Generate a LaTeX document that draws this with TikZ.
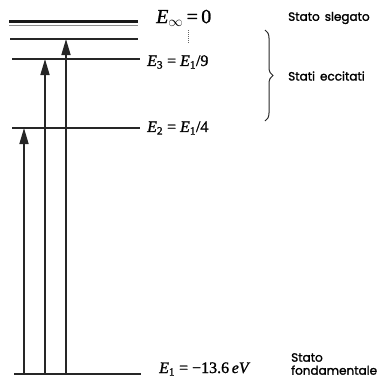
\documentclass[tikz,border=0pt]{standalone}
\usepackage{fontspec}
\usetikzlibrary{arrows.meta,decorations.pathreplacing}
\newfontfamily\labfont{Poppins}[FakeBold=1.6]
\newfontfamily\eqfont{Liberation Serif}[FakeBold=1.2]
\newcommand{\Ei}[1]{\textit{E}\textsubscript{#1}}
\begin{document}
\begin{tikzpicture}[x=1pt,y=-1pt,
  level/.style={line width=1.6pt,black!85},
  uparrow/.style={line width=1.6pt,black!85,-{Triangle[width=9pt,length=16pt]}},
  elabel/.style={anchor=west,inner sep=0pt,font=\eqfont\fontsize{16}{18}\selectfont},
  sidelabel/.style={anchor=west,inner sep=0pt,font=\labfont\fontsize{12}{13}\selectfont,align=left}]
\useasboundingbox (0,0) rectangle (378,381);
% levels
\coordinate (infL) at (9,21.5);  \coordinate (infR) at (138,21.5);
\coordinate (infbL) at (9,25.5); \coordinate (infbR) at (138,25.5);
\coordinate (e4L) at (10,39);    \coordinate (e4R) at (138,39);
\coordinate (e3L) at (12,59);    \coordinate (e3R) at (140,59);
\coordinate (e2L) at (12,128);   \coordinate (e2R) at (140,128);
\coordinate (e1L) at (14,374);   \coordinate (e1R) at (141,374);
\draw[line width=3.5pt,black!90] (infL) -- (infR);
\draw[line width=1pt,black!45] (infbL) -- (infbR);
\draw[level] (e4L) -- (e4R);
\draw[level] (e3L) -- (e3R);
\draw[level] (e2L) -- (e2R);
\draw[level] (e1L) -- (e1R);
% arrows
\coordinate (a1s) at (24,374); \coordinate (a1e) at (24,128);
\coordinate (a2s) at (45,374); \coordinate (a2e) at (45,59);
\coordinate (a3s) at (66,374); \coordinate (a3e) at (66,39);
\draw[uparrow] (a1s) -- (a1e);
\draw[uparrow] (a2s) -- (a2e);
\draw[uparrow] (a3s) -- (a3e);
% energy labels
\node[elabel,font=\eqfont\fontsize{20}{22}\selectfont] (linf) at (156,18) {\textit{E}\textsubscript{$\infty$}\,=\,0};
\node[elabel] (l3) at (147,62) {\Ei{3} = \Ei{1}/9};
\node[elabel] (l2) at (147,128) {\Ei{2} = \Ei{1}/4};
\node[elabel] (l1) at (159,369) {\Ei{1} = −13.6\,\textit{eV}};
% dots
\coordinate (dtop) at (188,30); \coordinate (dbot) at (188,44);
\draw[black!60,line width=0.8pt,dash pattern=on 1pt off 1pt] (dtop) -- (dbot);
% brace
\coordinate (bt) at (265,30); \coordinate (bb) at (265,121);
\draw[line width=1pt,black!85,decorate,decoration={brace,amplitude=8pt}] (bt) -- (bb);
% side labels
\node[sidelabel] (ss) at (288,18) {Stato\hspace{5pt}slegato};
\node[sidelabel] (se) at (288,76) {Stati\hspace{5pt}eccitati};
\node[sidelabel] (sf) at (291,364) {Stato\\fondamentale};
\end{tikzpicture}
\end{document}
